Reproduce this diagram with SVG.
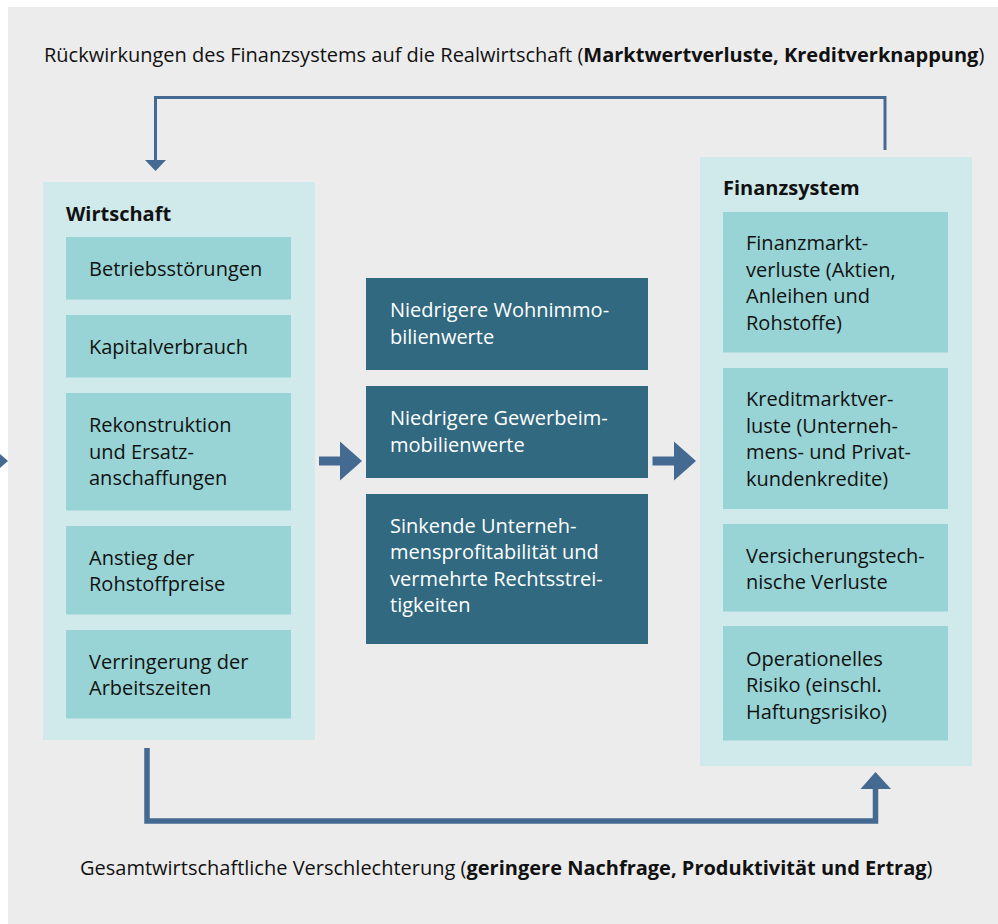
<svg xmlns="http://www.w3.org/2000/svg" width="998" height="924" viewBox="0 0 998 924">
<style>
.bg{fill:#ececec}
.outer{fill:#d0e9ea}
.inner{fill:#98d4d5}
.dark{fill:#306980}
.t{font-family:"Open Sans","Liberation Sans",sans-serif;font-size:20px;fill:#111}
.w{fill:#ffffff}
.b{font-weight:bold}
.arr{fill:#446a91}
.line{fill:none;stroke:#446a91}
</style>
<rect x="0" y="0" width="998" height="924" fill="#ffffff"/>
<rect class="bg" x="8" y="7" width="990" height="917"/>

<text class="t" x="44" y="62">Rückwirkungen des Finanzsystems auf die Realwirtschaft (<tspan class="b">Marktwertverluste, Kreditverknappung</tspan>)</text>
<text class="t" x="80" y="875">Gesamtwirtschaftliche Verschlechterung (<tspan class="b">geringere Nachfrage, Produktivität und Ertrag</tspan>)</text>

<g id="connectors">
<polyline class="line" stroke-width="3" points="885,150 885,97.5 155.5,97.5 155.5,161"/>
<polygon class="arr" points="145,160 166,160 155.5,171"/>
<polyline class="line" stroke-width="5.5" points="147,748 147,821 875.5,821 875.5,788"/>
<polygon class="arr" points="860.5,789 891,789 875.5,772"/>
<rect class="arr" x="319" y="456.5" width="22" height="9"/>
<polygon class="arr" points="340,441.5 362,461 340,480.5"/>
<rect class="arr" x="652.5" y="456.5" width="22" height="9"/>
<polygon class="arr" points="674,441.5 696,461 674,480.5"/>
<polygon class="arr" points="-14,441.5 8,461 -14,480.5"/>
</g>

<g id="wirtschaft">
<rect class="outer" x="43" y="182" width="272" height="558"/>
<text class="t b" x="66" y="221">Wirtschaft</text>
</g>
<g id="betriebsstoerungen">
<rect class="inner" x="66" y="237" width="225" height="62.5"/>
<text class="t" x="89" y="276">Betriebsstörungen</text>
</g>
<g id="kapitalverbrauch">
<rect class="inner" x="66" y="315" width="225" height="62.5"/>
<text class="t" x="89" y="354">Kapitalverbrauch</text>
</g>
<g id="rekonstruktion">
<rect class="inner" x="66" y="393" width="225" height="117.5"/>
<text class="t" x="89" y="432">Rekonstruktion</text>
<text class="t" x="89" y="458.7">und Ersatz-</text>
<text class="t" x="89" y="485.3">anschaffungen</text>
</g>
<g id="rohstoffpreise">
<rect class="inner" x="66" y="526" width="225" height="88.5"/>
<text class="t" x="89" y="564.5">Anstieg der</text>
<text class="t" x="89" y="591">Rohstoffpreise</text>
</g>
<g id="arbeitszeiten">
<rect class="inner" x="66" y="630" width="225" height="88.5"/>
<text class="t" x="89" y="668.5">Verringerung der</text>
<text class="t" x="89" y="695">Arbeitszeiten</text>
</g>

<g id="wohnimmobilien">
<rect class="dark" x="366" y="278" width="282" height="92"/>
<text class="t w" x="390" y="317">Niedrigere Wohnimmo-</text>
<text class="t w" x="390" y="343.5">bilienwerte</text>
</g>
<g id="gewerbeimmobilien">
<rect class="dark" x="366" y="386" width="282" height="92"/>
<text class="t w" x="390" y="425">Niedrigere Gewerbeim-</text>
<text class="t w" x="390" y="451.5">mobilienwerte</text>
</g>
<g id="profitabilitaet">
<rect class="dark" x="366" y="494" width="282" height="150"/>
<text class="t w" x="390" y="532.5">Sinkende Unterneh-</text>
<text class="t w" x="390" y="559">mensprofitabilität und</text>
<text class="t w" x="390" y="585.5">vermehrte Rechtsstrei-</text>
<text class="t w" x="390" y="612">tigkeiten</text>
</g>

<g id="finanzsystem">
<rect class="outer" x="700" y="157" width="272" height="609"/>
<text class="t b" x="723" y="195">Finanzsystem</text>
</g>
<g id="finanzmarktverluste">
<rect class="inner" x="723" y="212" width="225" height="140.5"/>
<text class="t" x="746" y="250">Finanzmarkt-</text>
<text class="t" x="746" y="276.7">verluste (Aktien,</text>
<text class="t" x="746" y="303.3">Anleihen und</text>
<text class="t" x="746" y="330">Rohstoffe)</text>
</g>
<g id="kreditmarktverluste">
<rect class="inner" x="723" y="368" width="225" height="141"/>
<text class="t" x="746" y="406">Kreditmarktver-</text>
<text class="t" x="746" y="432.7">luste (Unterneh-</text>
<text class="t" x="746" y="459.3">mens- und Privat-</text>
<text class="t" x="746" y="486">kundenkredite)</text>
</g>
<g id="versicherung">
<rect class="inner" x="723" y="524" width="225" height="87.5"/>
<text class="t" x="746" y="562.7">Versicherungstech-</text>
<text class="t" x="746" y="589.3">nische Verluste</text>
</g>
<g id="operationell">
<rect class="inner" x="723" y="626" width="225" height="114.5"/>
<text class="t" x="746" y="665.7">Operationelles</text>
<text class="t" x="746" y="692.3">Risiko (einschl.</text>
<text class="t" x="746" y="719">Haftungsrisiko)</text>
</g>
</svg>
